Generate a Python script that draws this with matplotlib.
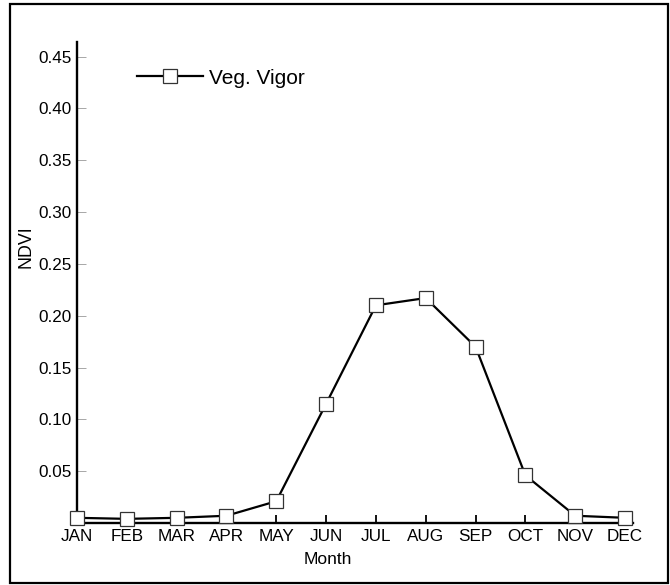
import matplotlib
matplotlib.use('Agg')
import matplotlib.pyplot as plt
from matplotlib.patches import Rectangle

# dados
meses = ['JAN', 'FEB', 'MAR', 'APR', 'MAY', 'JUN', 'JUL', 'AUG', 'SEP', 'OCT', 'NOV', 'DEC']
ndvi = [0.005, 0.004, 0.005, 0.007, 0.021, 0.115, 0.210, 0.217, 0.170, 0.046, 0.007, 0.005]
y_ticks = [0.05, 0.10, 0.15, 0.20, 0.25, 0.30, 0.35, 0.40, 0.45]
y_labels = ['%.2f' % v for v in y_ticks]

plt.rcParams['font.family'] = ['Liberation Sans', 'DejaVu Sans']

fig = plt.figure(figsize=(6.7, 5.85), dpi=100)
ax = fig.add_axes([77 / 670, 1 - 523 / 585, 556 / 670, 481 / 585])

x = list(range(len(meses)))
ax.plot(x, ndvi, color='black', linewidth=1.6, marker='s', markersize=9.5,
        markerfacecolor='white', markeredgecolor='#333333', markeredgewidth=0.9,
        clip_on=False, zorder=3, label='Veg. Vigor')

ax.set_xlim(0, 11.16)
ax.set_ylim(0, 0.464)
ax.set_xticks(x)
ax.set_xticklabels(meses)
ax.set_yticks(y_ticks)
ax.set_yticklabels(y_labels)

for lado in ['top', 'right']:
    ax.spines[lado].set_visible(False)
for lado in ['left', 'bottom']:
    ax.spines[lado].set_linewidth(1.7)

ax.tick_params(axis='y', direction='in', length=6.5, width=0.6, color='#999999',
               labelsize=12.3, pad=4.0)
ax.tick_params(axis='x', direction='in', length=5.5, width=1.3, color='black',
               labelsize=12.3, pad=4.5)

ax.set_ylabel('NDVI', fontsize=12.8, va='center')
ax.yaxis.set_label_coords(-0.0917, 0.574)
ax.set_xlabel('Month', fontsize=12.5, va='center')
ax.xaxis.set_label_coords(0.451, -0.075)

ax.legend(loc='center left', bbox_to_anchor=(137 / 670, 1 - 78 / 585),
          bbox_transform=fig.transFigure, frameon=False, fontsize=15,
          handlelength=3.17, handletextpad=0.3, borderpad=0, borderaxespad=0,
          numpoints=1)

# moldura em volta da figura
fig.patches.append(Rectangle((10 / 670, 2 / 585), 658 / 670, 579 / 585,
                             transform=fig.transFigure, fill=False,
                             edgecolor='black', linewidth=1.6))

fig.savefig('out.png', dpi=100)
